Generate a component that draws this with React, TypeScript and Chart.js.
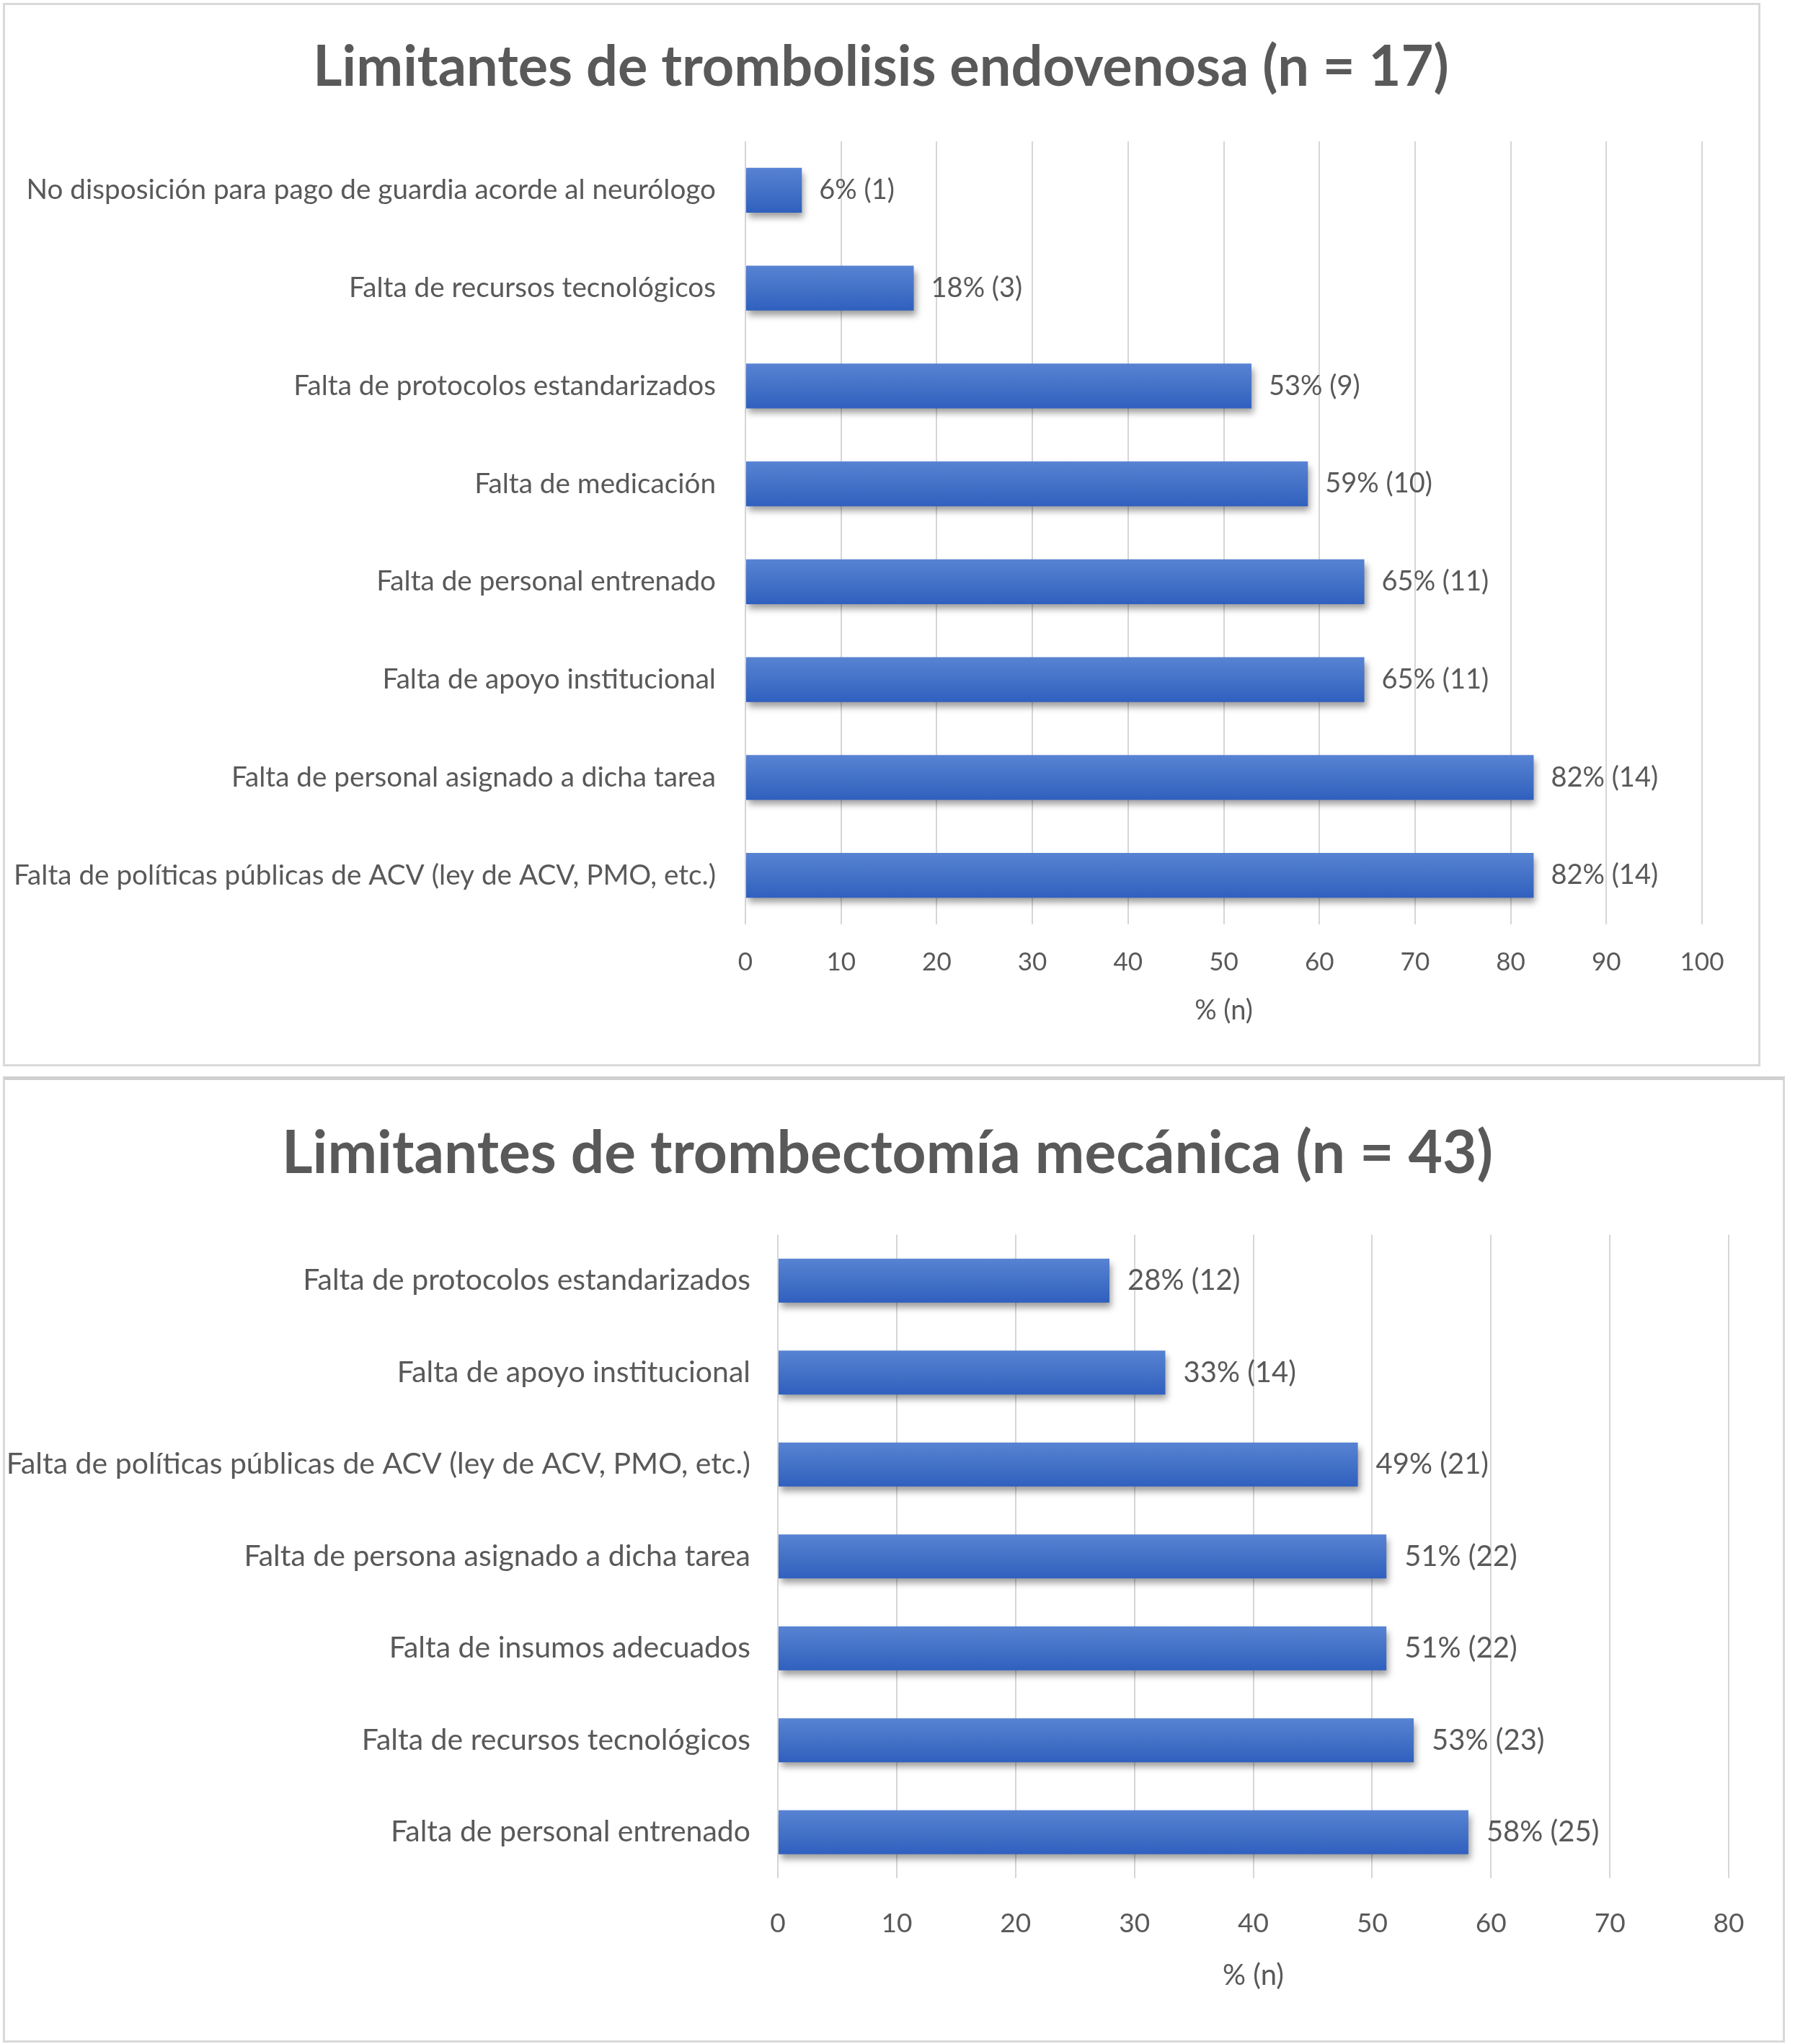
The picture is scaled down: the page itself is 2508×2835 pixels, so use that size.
import React, { useEffect, useRef } from "react";
import { Chart, registerables } from "chart.js";

Chart.register(...registerables);

// ---------- Data ----------
const tlTitle = "Limitantes de trombolisis endovenosa (n = 17)";
const tlCategories = [
  "No disposición para pago de guardia acorde al neurólogo",
  "Falta de recursos tecnológicos",
  "Falta de protocolos estandarizados",
  "Falta de medicación",
  "Falta de personal entrenado",
  "Falta de apoyo institucional",
  "Falta de personal asignado a dicha tarea",
  "Falta de políticas públicas de ACV (ley de ACV, PMO, etc.)",
];
const tlValues = [5.9, 17.6, 52.9, 58.8, 64.7, 64.7, 82.4, 82.4];
const tlPercentLabels = ["6%", "18%", "53%", "59%", "65%", "65%", "82%", "82%"];
const tlCounts = [1, 3, 9, 10, 11, 11, 14, 14];
const tlAxisMax = 100;

const tmTitle = "Limitantes de trombectomía mecánica (n = 43)";
const tmCategories = [
  "Falta de protocolos estandarizados",
  "Falta de apoyo institucional",
  "Falta de políticas públicas de ACV (ley de ACV, PMO, etc.)",
  "Falta de persona asignado a dicha tarea",
  "Falta de insumos adecuados",
  "Falta de recursos tecnológicos",
  "Falta de personal entrenado",
];
const tmValues = [27.9, 32.6, 48.8, 51.2, 51.2, 53.5, 58.1];
const tmPercentLabels = ["28%", "33%", "49%", "51%", "51%", "53%", "58%"];
const tmCounts = [12, 14, 21, 22, 22, 23, 25];
const tmAxisMax = 80;

const axisTitleText = "% (n)";

// ---------- Styling ----------
const FONT = "Lato, 'Noto Sans', sans-serif";
const TEXT = "#595959";
const GRID = "#D6D6D6";

type Geom = {
  top: number;
  height: number;
  titleCenter: number;
  padRight: number;
  padBottom: number;
  yAxisWidth: number;
  xAxisHeight: number;
  titleSize: number;
  titlePadTop: number;
  titlePadBottom: number;
  labelSize: number;
  labelPad: number;
  tickSize: number;
  tickPad: number;
  axisTitleSize: number;
  dataLabelSize: number;
  dataLabelGap: number;
  barPct: number;
};

type PanelProps = {
  title: string;
  categories: string[];
  values: number[];
  pct: string[];
  counts: number[];
  max: number;
  g: Geom;
};

function Panel({ title, categories, values, pct, counts, max, g }: PanelProps) {
  const ref = useRef<HTMLCanvasElement | null>(null);

  useEffect(() => {
    let chart: Chart | null = null;
    let cancelled = false;

    const make = () => {
      if (cancelled || !ref.current) return;
      const panelPlugin = {
        id: "panelPlugin",
        afterLayout(c: any) {
          const tb = c.titleBlock;
          if (tb) {
            tb.left = 0;
            tb.right = 2 * g.titleCenter;
          }
        },
        beforeDatasetsDraw(c: any) {
          const ctx = c.ctx;
          ctx.save();
          ctx.shadowColor = "rgba(0,0,0,0.38)";
          ctx.shadowBlur = 9;
          ctx.shadowOffsetX = 3;
          ctx.shadowOffsetY = 7;
        },
        afterDatasetsDraw(c: any) {
          const ctx = c.ctx;
          ctx.restore();
          const meta = c.getDatasetMeta(0);
          ctx.save();
          ctx.font = `${g.dataLabelSize}px ${FONT}`;
          ctx.fillStyle = TEXT;
          ctx.textAlign = "left";
          ctx.textBaseline = "middle";
          meta.data.forEach((el: any, i: number) => {
            ctx.fillText(`${pct[i]} (${counts[i]})`, el.x + g.dataLabelGap, el.y);
          });
          ctx.restore();
        },
      };

      chart = new Chart(ref.current, {
        type: "bar",
        data: {
          labels: categories,
          datasets: [
            {
              data: values,
              borderWidth: 0,
              barPercentage: g.barPct,
              categoryPercentage: 1,
              backgroundColor: (c: any) => {
                const ch = c.chart;
                const ys = ch.scales && ch.scales.y;
                if (!ys || c.dataIndex === undefined) return "#4472C4";
                const yc = ys.getPixelForValue(c.dataIndex);
                const half = ((ys.bottom - ys.top) / categories.length) * g.barPct / 2;
                if (!isFinite(yc) || !isFinite(half) || half <= 0) return "#4472C4";
                const grad = ch.ctx.createLinearGradient(0, yc - half, 0, yc + half);
                grad.addColorStop(0, "#5883D3");
                grad.addColorStop(0.5, "#4472C7");
                grad.addColorStop(1, "#3060BF");
                return grad;
              },
            },
          ],
        },
        options: {
          indexAxis: "y",
          responsive: false,
          animation: false,
          devicePixelRatio: 1,
          layout: {
            padding: { left: 0, right: g.padRight, top: 0, bottom: g.padBottom },
          },
          plugins: {
            legend: { display: false },
            tooltip: { enabled: false },
            title: {
              display: true,
              text: title,
              color: TEXT,
              font: { family: FONT, size: g.titleSize, weight: "bold" },
              padding: { top: g.titlePadTop, bottom: g.titlePadBottom },
            },
          },
          scales: {
            x: {
              type: "linear",
              min: 0,
              max: max,
              ticks: {
                stepSize: 10,
                color: TEXT,
                padding: g.tickPad,
                font: { family: FONT, size: g.tickSize },
              },
              grid: { color: GRID, lineWidth: 2, drawTicks: false },
              border: { display: false },
              title: {
                display: true,
                text: axisTitleText,
                color: TEXT,
                padding: 0,
                font: { family: FONT, size: g.axisTitleSize },
              },
              afterFit(scale: any) {
                scale.height = g.xAxisHeight;
              },
            },
            y: {
              type: "category",
              ticks: {
                color: TEXT,
                padding: g.labelPad,
                autoSkip: false,
                font: { family: FONT, size: g.labelSize },
              },
              grid: { display: false, drawTicks: false },
              border: { display: false },
              afterFit(scale: any) {
                scale.width = g.yAxisWidth;
              },
            },
          },
        } as any,
        plugins: [panelPlugin],
      });
    };

    const fontsApi: any = (document as any).fonts;
    if (fontsApi && fontsApi.load) {
      Promise.all([
        fontsApi.load(`bold ${g.titleSize}px Lato`),
        fontsApi.load(`${g.labelSize}px Lato`),
      ])
        .catch(() => undefined)
        .then(make);
    } else {
      make();
    }

    return () => {
      cancelled = true;
      if (chart) chart.destroy();
    };
  }, []);

  return (
    <canvas
      ref={ref}
      width={2508}
      height={g.height}
      style={{ position: "absolute", left: 0, top: g.top, width: 2508, height: g.height }}
    />
  );
}

const topGeom: Geom = {
  top: 0,
  height: 1488,
  titleCenter: 1222,
  padRight: 147,
  padBottom: 63,
  yAxisWidth: 1034,
  xAxisHeight: 143,
  titleSize: 77.5,
  titlePadTop: 47,
  titlePadBottom: 56,
  labelSize: 38.7,
  labelPad: 41,
  tickSize: 35,
  tickPad: 32,
  axisTitleSize: 38,
  dataLabelSize: 38,
  dataLabelGap: 24,
  barPct: 0.458,
};

const bottomGeom: Geom = {
  top: 1488,
  height: 1347,
  titleCenter: 1231,
  padRight: 110,
  padBottom: 71,
  yAxisWidth: 1079,
  xAxisHeight: 159,
  titleSize: 82,
  titlePadTop: 63,
  titlePadBottom: 63,
  labelSize: 41,
  labelPad: 38,
  tickSize: 37,
  tickPad: 41,
  axisTitleSize: 40,
  dataLabelSize: 40,
  dataLabelGap: 25,
  barPct: 0.478,
};

export default function App() {
  useEffect(() => {
    document.body.style.margin = "0";
    document.body.style.background = "#ffffff";
  }, []);
  return (
    <div style={{ position: "relative", width: 2508, height: 2835, background: "#fff", overflow: "hidden" }}>
      <div
        style={{
          position: "absolute",
          left: 4,
          top: 4,
          width: 2438 - 6,
          height: 1475 - 6,
          border: "3px solid #D9D9D9",
          boxSizing: "content-box",
        }}
      />
      <div
        style={{
          position: "absolute",
          left: 4,
          top: 1493,
          width: 2472 - 6,
          height: 1340 - 8,
          borderLeft: "3px solid #D9D9D9",
          borderRight: "3px solid #D9D9D9",
          borderBottom: "3px solid #D9D9D9",
          borderTop: "5px solid #CFCFCF",
          boxSizing: "content-box",
        }}
      />
      <Panel
        title={tlTitle}
        categories={tlCategories}
        values={tlValues}
        pct={tlPercentLabels}
        counts={tlCounts}
        max={tlAxisMax}
        g={topGeom}
      />
      <Panel
        title={tmTitle}
        categories={tmCategories}
        values={tmValues}
        pct={tmPercentLabels}
        counts={tmCounts}
        max={tmAxisMax}
        g={bottomGeom}
      />
    </div>
  );
}
